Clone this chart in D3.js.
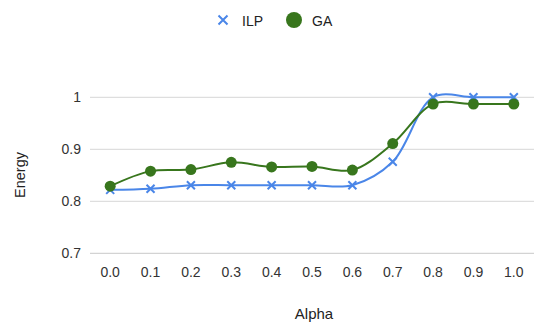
<!DOCTYPE html>
<html><head><meta charset="utf-8">
<script src="https://cdn.jsdelivr.net/npm/d3@7"></script>
<style>body{margin:0;background:#fff}text{font-family:Arial,"Liberation Sans",sans-serif}</style>
</head><body><svg id="c" width="537" height="327"></svg>
<script>
const categories = ["0.0","0.1","0.2","0.3","0.4","0.5","0.6","0.7","0.8","0.9","1.0"];
const ilpValues = [0.822,0.824,0.831,0.831,0.831,0.831,0.831,0.876,1.0,1.0,1.0];
const gaValues  = [0.829,0.858,0.861,0.875,0.866,0.867,0.860,0.911,0.987,0.987,0.987];
const yTicks = [0.7,0.8,0.9,1];
const seriesNames = ["ILP","GA"];

const svg = d3.select("#c");
const pLeft = 90, pRight = 534, pTop = 97.3, pBottom = 253.3;
const x = d3.scaleBand().domain(categories).range([pLeft,pRight]);
const y = d3.scaleLinear().domain([0.7,1.0]).range([pBottom,pTop]);
const cx = d => x(d) + x.bandwidth()/2;

// gridlines
svg.append("g").selectAll("line").data(yTicks).join("line")
  .attr("x1",pLeft).attr("x2",pRight)
  .attr("y1",d=>y(d)).attr("y2",d=>y(d))
  .attr("stroke",d=>d===0.7?"#c8c8c8":"#d6d6d6").attr("stroke-width",1);

// y tick labels
svg.append("g").selectAll("text").data(yTicks).join("text")
  .attr("x",81).attr("y",d=>y(d)+5).attr("text-anchor","end")
  .attr("font-size",14).attr("fill","#333").text(d=>d===1?"1":d.toFixed(1));

// x tick labels
svg.append("g").selectAll("text").data(categories).join("text")
  .attr("x",d=>cx(d)).attr("y",277).attr("text-anchor","middle")
  .attr("font-size",14).attr("fill","#333").text(d=>d);

// axis titles
svg.append("text").attr("x",314).attr("y",319).attr("text-anchor","middle")
  .attr("font-size",15).attr("fill","#222").text("Alpha");
svg.append("text").attr("transform","translate(25,175) rotate(-90)").attr("text-anchor","middle")
  .attr("font-size",14.5).attr("fill","#222").text("Energy");

const line = d3.line().x((d,i)=>cx(categories[i])).y(d=>y(d)).curve(d3.curveCatmullRom.alpha(0.5));
const blue = "#4a86e8", green = "#38761d";

// ILP
svg.append("path").attr("d",line(ilpValues)).attr("fill","none").attr("stroke",blue).attr("stroke-width",2);
function cross(g, px, py, s, col){
  g.append("path").attr("d",`M${px-s},${py-s}L${px+s},${py+s}M${px-s},${py+s}L${px+s},${py-s}`)
   .attr("stroke",col).attr("stroke-width",2);
}
const gI = svg.append("g");
ilpValues.forEach((v,i)=>cross(gI, cx(categories[i]), y(v), 4, blue));

// GA
svg.append("path").attr("d",line(gaValues)).attr("fill","none").attr("stroke",green).attr("stroke-width",2);
svg.append("g").selectAll("circle").data(gaValues).join("circle")
  .attr("cx",(d,i)=>cx(categories[i])).attr("cy",d=>y(d)).attr("r",5.5).attr("fill",green);

// legend
const lg = svg.append("g");
cross(lg, 223, 20, 4.5, blue);
lg.append("text").attr("x",242).attr("y",26).attr("font-size",14).attr("fill","#222").text(seriesNames[0]);
lg.append("circle").attr("cx",294).attr("cy",20).attr("r",8).attr("fill",green);
lg.append("text").attr("x",312).attr("y",26).attr("font-size",14).attr("fill","#222").text(seriesNames[1]);
</script></body></html>
